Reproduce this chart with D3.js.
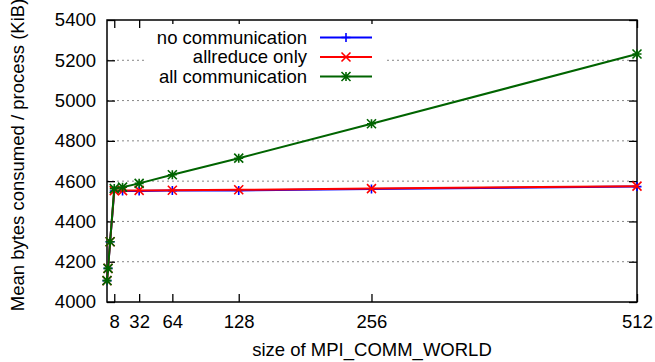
<!DOCTYPE html>
<html>
<head>
<meta charset="utf-8">
<script src="https://cdn.jsdelivr.net/npm/d3@7"></script>
<style>
  body { margin: 0; background: #fff; }
  text { font-family: "Liberation Sans", Arial, sans-serif; font-size: 18.5px; fill: #000; }
</style>
</head>
<body>
<div id="chart"></div>
<script>
// communicator sizes and mean memory (KiB)
const procs = [1, 2, 4, 8, 16, 32, 64, 128, 256, 512];
const noComm = [4106, 4167, 4299, 4551, 4551, 4551, 4553, 4554, 4561, 4573];
const allreduceOnly = [4106, 4167, 4299, 4553, 4553, 4554, 4555, 4557, 4563, 4575];
const allComm = [4106, 4167, 4299, 4563, 4570, 4589, 4632, 4714, 4885, 5231];
const xTicks = [8, 32, 64, 128, 256, 512];
const yTicks = [4000, 4200, 4400, 4600, 4800, 5000, 5200, 5400];

const series = [
  { name: "no communication", values: noComm, color: "#0000ff", marker: "plus" },
  { name: "allreduce only", values: allreduceOnly, color: "#ff0000", marker: "cross" },
  { name: "all communication", values: allComm, color: "#006400", marker: "star" }
];

let svgWidth = 655;
let svgHeight = 362;
let margin = { top: 20, right: 18, bottom: 60, left: 107 };
let width = svgWidth - margin.left - margin.right;
let height = svgHeight - margin.top - margin.bottom;

let svg = d3.select("#chart").append("svg")
  .attr("width", svgWidth)
  .attr("height", svgHeight);

let g = svg.append("g").attr("transform", `translate(${margin.left},${margin.top})`);

let x = d3.scaleLinear().domain([1, 512]).range([0, width]);
let y = d3.scaleLinear().domain([4000, 5400]).range([height, 0]);

// grid
g.append("g").selectAll("line")
  .data(yTicks.slice(1, -1))
  .enter().append("line")
  .attr("x1", 0).attr("x2", width)
  .attr("y1", d => y(d)).attr("y2", d => y(d))
  .attr("stroke", "#888").attr("stroke-width", 1)
  .attr("stroke-dasharray", "2,3");

// ticks on all four sides, pointing inward
let tl = 8;
let bottomAxis = d3.axisBottom(x).tickValues(xTicks).tickSizeInner(-tl).tickSizeOuter(0).tickPadding(13);
let topAxis = d3.axisTop(x).tickValues(xTicks).tickSizeInner(-tl).tickSizeOuter(0).tickFormat("");
let leftAxis = d3.axisLeft(y).tickValues(yTicks).tickFormat(d3.format("d")).tickSizeInner(-tl).tickSizeOuter(0).tickPadding(11);
let rightAxis = d3.axisRight(y).tickValues(yTicks).tickSizeInner(-tl).tickSizeOuter(0).tickFormat("");

function style(sel) {
  sel.select(".domain").remove();
  sel.selectAll("line").attr("stroke", "#000").attr("stroke-width", 1.3);
  sel.selectAll("text").attr("font-size", 18.5).attr("font-family", "Liberation Sans, Arial, sans-serif").attr("fill", "#000");
}
g.append("g").attr("transform", `translate(0,${height})`).call(bottomAxis).call(style);
g.append("g").call(topAxis).call(style);
g.append("g").call(leftAxis).call(style);
g.append("g").attr("transform", `translate(${width},0)`).call(rightAxis).call(style);

// legend background (hides grid behind it)
let legX = 200, legY = 17.5;
g.append("rect")
  .attr("x", 40).attr("y", 4)
  .attr("width", 238).attr("height", 64)
  .attr("fill", "#fff");

// border
g.append("rect")
  .attr("width", width).attr("height", height)
  .attr("fill", "none").attr("stroke", "#000").attr("stroke-width", 1.5);

function marker(sel, type, s, color) {
  let p = "";
  if (type === "plus" || type === "star") p += `M${-s},0H${s}M0,${-s}V${s}`;
  if (type === "cross" || type === "star") p += `M${-s},${-s}L${s},${s}M${-s},${s}L${s},${-s}`;
  sel.append("path").attr("d", p).attr("stroke", color).attr("stroke-width", 1.6).attr("fill", "none");
}

let line = d3.line().x(d => x(d[0])).y(d => y(d[1]));

series.forEach(function(s) {
  let pts = procs.map((p, i) => [p, s.values[i]]);
  g.append("path")
    .datum(pts)
    .attr("d", line)
    .attr("fill", "none")
    .attr("stroke", s.color)
    .attr("stroke-width", 2);
  pts.forEach(function(d) {
    let m = g.append("g").attr("transform", `translate(${x(d[0])},${y(d[1])})`);
    marker(m, s.marker, 4.5, s.color);
  });
});

// legend
series.forEach(function(s, i) {
  let ly = legY + i * 19.5;
  g.append("text")
    .attr("x", legX).attr("y", ly)
    .attr("dy", "0.35em")
    .attr("text-anchor", "end")
    .attr("font-size", 17)
    .text(s.name);
  g.append("line")
    .attr("x1", legX + 13).attr("x2", legX + 65)
    .attr("y1", ly).attr("y2", ly)
    .attr("stroke", s.color).attr("stroke-width", 2);
  let m = g.append("g").attr("transform", `translate(${legX + 39},${ly})`);
  marker(m, s.marker, 4.5, s.color);
});

// axis titles
svg.append("text")
  .attr("x", margin.left + width / 2)
  .attr("y", 356)
  .attr("text-anchor", "middle")
  .text("size of MPI_COMM_WORLD");

svg.append("text")
  .attr("transform", `translate(24,${margin.top + height / 2 - 6}) rotate(-90)`)
  .attr("text-anchor", "middle")
  .text("Mean bytes consumed / process (KiB)");
</script>
</body>
</html>
